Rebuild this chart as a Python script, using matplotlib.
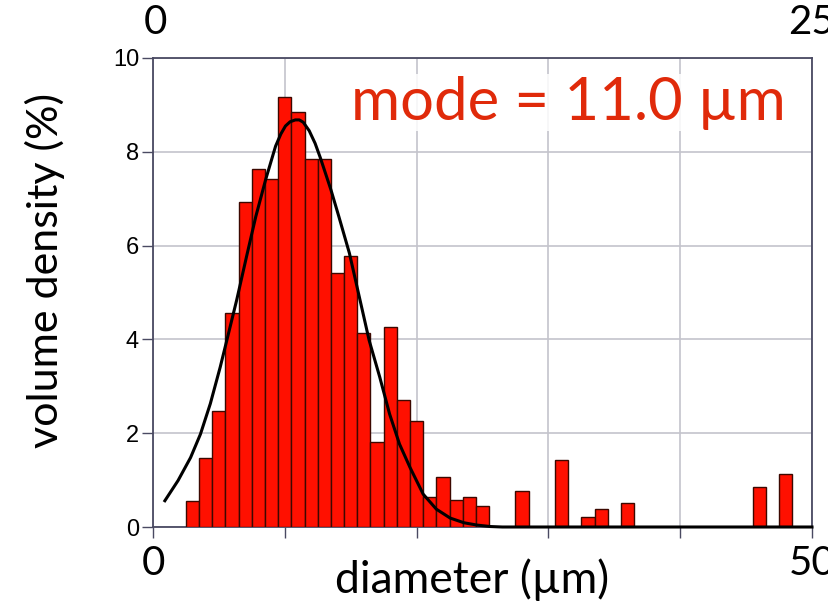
import numpy as np
import matplotlib
matplotlib.use('Agg')
import matplotlib.pyplot as plt

# histogram bins (centre of each 1 um bin) and volume density (%)
bin_centres = [3, 4, 5, 6, 7, 8, 9, 10, 11, 12, 13, 14, 15, 16, 17, 18, 19, 20,
               21, 22, 23, 24, 25, 28, 31, 33, 34, 36, 46, 48]
density = [0.56, 1.47, 2.47, 4.57, 6.92, 7.64, 7.41, 9.17, 8.85, 7.84, 7.84, 5.41,
           5.78, 4.13, 1.81, 4.26, 2.71, 2.27, 0.64, 1.06, 0.58, 0.64, 0.45,
           0.76, 1.43, 0.21, 0.39, 0.52, 0.86, 1.13]

# fitted curve
fit_x = [0.9, 1.9, 2.85, 3.6, 4.35, 5.1, 5.6, 6.35, 7.1, 7.8, 8.55, 9.3, 9.7,
         10.05, 10.4, 10.8, 11.1, 11.4, 11.85, 12.3, 12.7, 13.5, 14.1, 14.9,
         15.65, 16.4, 17.2, 17.95, 18.7, 19.5, 20.5, 21.5, 22.55, 23.6, 24.6,
         25.6, 26.5, 50.0]
fit_y = [0.56, 0.99, 1.48, 1.98, 2.63, 3.41, 3.98, 4.84, 5.77, 6.62, 7.41, 8.12,
         8.38, 8.55, 8.64, 8.68, 8.68, 8.63, 8.45, 8.18, 7.87, 7.19, 6.62, 5.84,
         4.91, 3.98, 3.2, 2.41, 1.77, 1.27, 0.70, 0.38, 0.19, 0.09, 0.04, 0.01,
         0.0, 0.0]

y_ticks = [0, 2, 4, 6, 8, 10]
x_ticks = [0, 10, 20, 30, 40, 50]
x_tick_labels = ['0', '', '', '', '', '50']

big_font = ['Lato', 'DejaVu Sans']
small_font = ['Liberation Sans Narrow', 'Liberation Sans', 'DejaVu Sans']
axis_col = '#4a4a62'
grid_col = '#c4c4cc'

fig = plt.figure(figsize=(8.29, 6.03), dpi=100)
ax = fig.add_axes([153 / 829, 76 / 603, 659 / 829, 469 / 603])

ax.bar(bin_centres, density, width=1.0, color='#ff1000', edgecolor='#3c0800',
       linewidth=1.0, zorder=3)
ax.plot(fit_x, fit_y, color='black', lw=2.2, zorder=4, clip_on=False)

ax.set_xlim(0, 50)
ax.set_ylim(0, 10)
ax.set_xticks(x_ticks)
ax.set_xticklabels(x_tick_labels, family=big_font, fontsize=29)
ax.set_yticks(y_ticks)
ax.set_yticklabels([str(v) for v in y_ticks], family=small_font, fontsize=17)
ax.tick_params(axis='x', length=8, width=1, color=axis_col, pad=5)
ax.tick_params(axis='y', length=8, width=1, color=axis_col, pad=2)
ax.grid(True, color=grid_col, lw=1.2, zorder=0)
for s in ax.spines.values():
    s.set_color(axis_col)
    s.set_linewidth(1.3)

ax.text(0.30, 0.905, 'mode = 11.0 \u00b5m', transform=ax.transAxes,
        ha='left', va='center', fontsize=43, color='#e02a0a', family=big_font,
        bbox=dict(facecolor='white', edgecolor='none', alpha=0.85, pad=1), zorder=5)

fig.text(472 / 829, 1 - 580 / 603, 'diameter (\u00b5m)', ha='center', va='center',
         fontsize=32, family=big_font)
fig.text(45 / 829, 1 - 270 / 603, 'volume density (%)', ha='center', va='center',
         rotation=90, fontsize=31, family=big_font)

# top scale labels
fig.text(155 / 829, 1 - 22 / 603, '0', ha='center', va='center', fontsize=29,
         family=big_font)
fig.text(812 / 829, 1 - 22 / 603, '25', ha='center', va='center', fontsize=29,
         family=big_font)

fig.savefig('out.png', dpi=100)
